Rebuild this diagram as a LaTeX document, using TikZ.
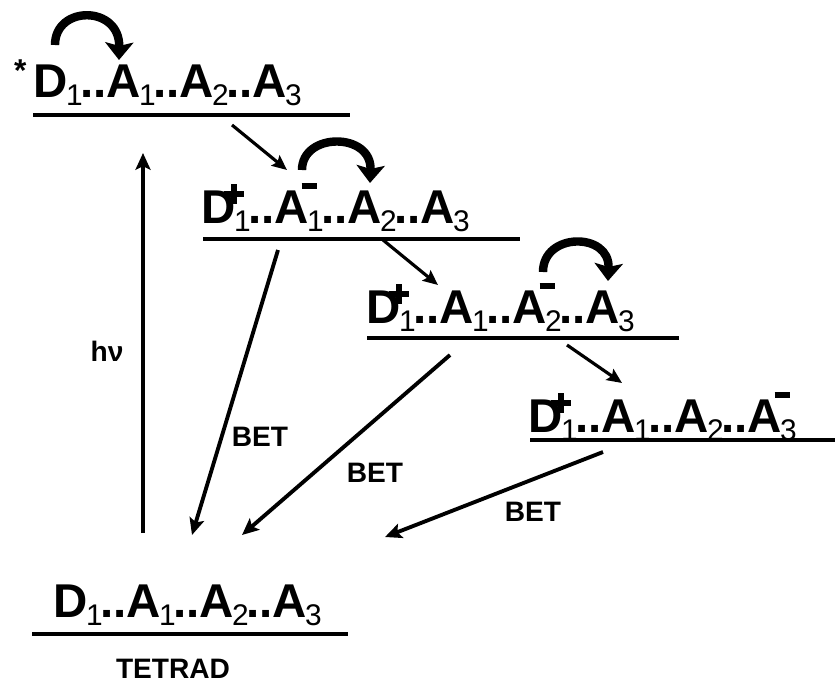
\documentclass[tikz,border=0pt]{standalone}
\usepackage{fontspec}
\setmainfont{Liberation Sans}
\usetikzlibrary{arrows.meta}
\newcommand{\sub}[1]{\kern-0.8pt\raisebox{-5pt}{\fontsize{17}{17}\selectfont\mdseries #1}\kern-1.6pt}
\newcommand{\pls}{\kern-6.7pt\rlap{\raisebox{15pt}{\rule{11.4pt}{3.4pt}}}\rlap{\kern4pt\raisebox{11pt}{\rule{3.4pt}{11.4pt}}}\kern6.7pt}
\newcommand{\mns}{\kern-4pt\rlap{\raisebox{19.5pt}{\rule{8.5pt}{3.4pt}}}\kern4pt}
\newcommand{\exc}{\llap{\raisebox{9pt}{\fontsize{18}{18}\selectfont *}\kern4pt}}

\begin{document}
\begin{tikzpicture}[x=0.02cm,y=-0.02cm,
        lbl/.style={font=\fontsize{27}{32}\selectfont\bfseries,inner sep=0pt,anchor=base west},
        tag/.style={font=\fontsize{16}{19}\selectfont\bfseries,inner sep=0pt},
        lvl/.style={line width=2.4pt},
        et/.style={line width=1.8pt,-{Stealth[length=8.5pt,width=7.5pt,inset=1.5pt]}},
        bet/.style={line width=2.2pt,-{Stealth[length=9.5pt,width=8.5pt,inset=2pt]}},
        hop/.style={line width=4.8pt,-{Stealth[length=10pt,width=16pt,inset=2pt]}}]
        \useasboundingbox (0,0) rectangle (835,683);

        % energy levels
        \node[lbl] (l1) at (33,97) {\exc D\sub{1}..A\sub{1}..A\sub{2}..A\sub{3}};
        \node[lbl] (l2) at (201,223) {D\pls\sub{1}..A\mns\sub{1}..A\sub{2}..A\sub{3}};
        \node[lbl] (l3) at (366,323) {D\pls\sub{1}..A\sub{1}..A\mns\sub{2}..A\sub{3}};
        \node[lbl] (l4) at (528,432) {D\pls\sub{1}..A\sub{1}..A\sub{2}..A\mns\sub{3}};
        \node[lbl] (g) at (53,617) {D\sub{1}..A\sub{1}..A\sub{2}..A\sub{3}};
        \node[tag] (tetrad) at (173,669) {TETRAD};

        \coordinate (l1a) at (33,115);  \coordinate (l1b) at (350,115);
        \coordinate (l2a) at (203,239); \coordinate (l2b) at (520,239);
        \coordinate (l3a) at (367,338); \coordinate (l3b) at (679,338);
        \coordinate (l4a) at (530,440); \coordinate (l4b) at (835,440);
        \coordinate (ga) at (32,634);   \coordinate (gb) at (348,634);
        \draw[lvl] (l1a) -- (l1b);
        \draw[lvl] (l2a) -- (l2b);
        \draw[lvl] (l3a) -- (l3b);
        \draw[lvl] (l4a) -- (l4b);
        \draw[lvl] (ga) -- (gb);

        % excitation
        \coordinate (hv0) at (143,533); \coordinate (hv1) at (143,153);
        \draw[bet] (hv0) to (hv1);
        \node[tag] (hv) at (107,351) {hν};

        % forward transfer
        \coordinate (f1a) at (232,125); \coordinate (f1b) at (287,170);
        \coordinate (f2a) at (383,240); \coordinate (f2b) at (438,285);
        \coordinate (f3a) at (567,345); \coordinate (f3b) at (622,383);
        \draw[et] (f1a) to (f1b);
        \draw[et] (f2a) to (f2b);
        \draw[et] (f3a) to (f3b);

        % electron hops
        \coordinate (h1a) at (55,45);   \coordinate (h1b) at (119,60);
        \coordinate (h2a) at (302,170); \coordinate (h2b) at (370,183);
        \coordinate (h3a) at (543,272); \coordinate (h3b) at (608,281);
        \draw[hop] (h1a) .. controls (55,5) and (120,5) .. (h1b);
        \draw[hop] (h2a) .. controls (302,132) and (372,132) .. (h2b);
        \draw[hop] (h3a) .. controls (543,232) and (610,232) .. (h3b);

        % back transfer
        \coordinate (b1a) at (278,250); \coordinate (b1b) at (192,535);
        \coordinate (b2a) at (450,355); \coordinate (b2b) at (242,535);
        \coordinate (b3a) at (603,452); \coordinate (b3b) at (385,537);
        \draw[bet] (b1a) to (b1b);
        \draw[bet] (b2a) to (b2b);
        \draw[bet] (b3a) to (b3b);
        \node[tag] (bet1) at (260,437) {BET};
        \node[tag] (bet2) at (375,473) {BET};
        \node[tag] (bet3) at (533,512) {BET};
\end{tikzpicture}
\end{document}
